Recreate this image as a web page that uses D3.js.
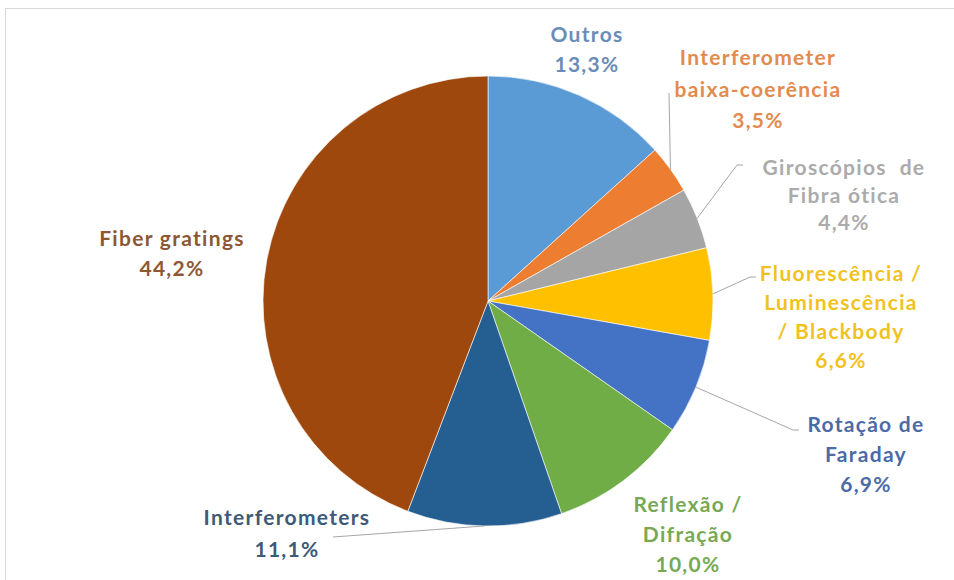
<!DOCTYPE html>
<html>
<head>
<meta charset="utf-8">
<script src="https://cdn.jsdelivr.net/npm/d3@7"></script>
<style>
  html, body { margin: 0; padding: 0; background: #fff; }
  svg { display: block; }
  text { font-family: Lato, "Open Sans", sans-serif; font-weight: 700; }
</style>
</head>
<body>
<svg id="chart" width="954" height="580"></svg>
<script>
// Share of publications per sensing technique (%), clockwise from 12 o'clock
const categories = [
  "Outros",
  "Interferometer baixa-coerência",
  "Giroscópios de Fibra ótica",
  "Fluorescência / Luminescência / Blackbody",
  "Rotação de Faraday",
  "Reflexão / Difração",
  "Interferometers",
  "Fiber gratings"
];
const values = [13.3, 3.5, 4.4, 6.6, 6.9, 10.0, 11.1, 44.2];

// Label text lines (category name split for wrapping), the value line is appended
const labelLines = [
  ["Outros"],
  ["Interferometer", "baixa-coerência"],
  ["Giroscópios  de", "Fibra ótica"],
  ["Fluorescência /", "Luminescência", "/ Blackbody"],
  ["Rotação de", "Faraday"],
  ["Reflexão /", "Difração"],
  ["Interferometers"],
  ["Fiber gratings"]
];

const sliceColors = ["#5B9BD5", "#ED7D31", "#A5A5A5", "#FFC000", "#4472C4", "#70AD47", "#255E91", "#9E480E"];
const labelColors = ["#6A8DB8", "#E38A4E", "#ABABAB", "#F1C21E", "#4C6AA6", "#77A954", "#3D5A79", "#8E5733"];

// Label block layout: centre x, baseline of first line, line step, optional leader elbow points
const labelLayout = [
  { x: 587, y: 42, step: 30, leader: null },
  { x: 758, y: 65, step: 31.5, leader: [[669, 93]] },
  { x: 844, y: 175, step: 27.5, leader: [[737, 165], [743, 165]] },
  { x: 841, y: 281, step: 29, leader: [[750, 277], [756, 277]] },
  { x: 866, y: 432, step: 30, leader: [[793, 430], [799, 430]] },
  { x: 688, y: 512, step: 30, leader: null },
  { x: 287, y: 525, step: 32, leader: [[333, 537]] },
  { x: 172, y: 246, step: 29.5, leader: null }
];

const svg = d3.select("#chart");
const width = 954, height = 580;
const cx = 488, cy = 301, radius = 225;
const fmt = v => d3.format(".1f")(v).replace(".", ",") + "%";

// chart area frame
svg.append("rect")
  .attr("x", 5.5).attr("y", 8.5)
  .attr("width", width + 10).attr("height", height + 10)
  .attr("fill", "#fff")
  .attr("stroke", "#D9D9D9").attr("stroke-width", 1);

const pie = d3.pie().sort(null).value(d => d);
const arcs = pie(values);
const arc = d3.arc().innerRadius(0).outerRadius(radius);

const g = svg.append("g").attr("transform", `translate(${cx},${cy})`);

g.selectAll("path.slice")
  .data(arcs)
  .join("path")
  .attr("class", "slice")
  .attr("d", arc)
  .attr("fill", (d, i) => sliceColors[i])
  .attr("stroke", "#ffffff")
  .attr("stroke-opacity", 0.6)
  .attr("stroke-width", 1);

// leader lines from each slice's outer edge to its label
const edgePoint = d => {
  const a = (d.startAngle + d.endAngle) / 2;
  return [cx + radius * Math.sin(a), cy - radius * Math.cos(a)];
};
arcs.forEach((d, i) => {
  const lay = labelLayout[i];
  if (!lay.leader) return;
  const pts = [edgePoint(d), ...lay.leader];
  svg.append("path")
    .attr("d", d3.line()(pts))
    .attr("fill", "none")
    .attr("stroke", "#A6A6A6")
    .attr("stroke-width", 1);
});

// data labels: category name lines followed by the percentage
arcs.forEach((d, i) => {
  const lay = labelLayout[i];
  const lines = [...labelLines[i], fmt(values[i])];
  const t = svg.append("text")
    .attr("text-anchor", "middle")
    .attr("font-size", 21)
    .attr("letter-spacing", 1.3)
    .attr("fill", labelColors[i])
    .style("white-space", "pre");
  lines.forEach((ln, k) => {
    t.append("tspan")
      .attr("x", lay.x)
      .attr("y", lay.y + k * lay.step)
      .text(ln);
  });
});
</script>
</body>
</html>
